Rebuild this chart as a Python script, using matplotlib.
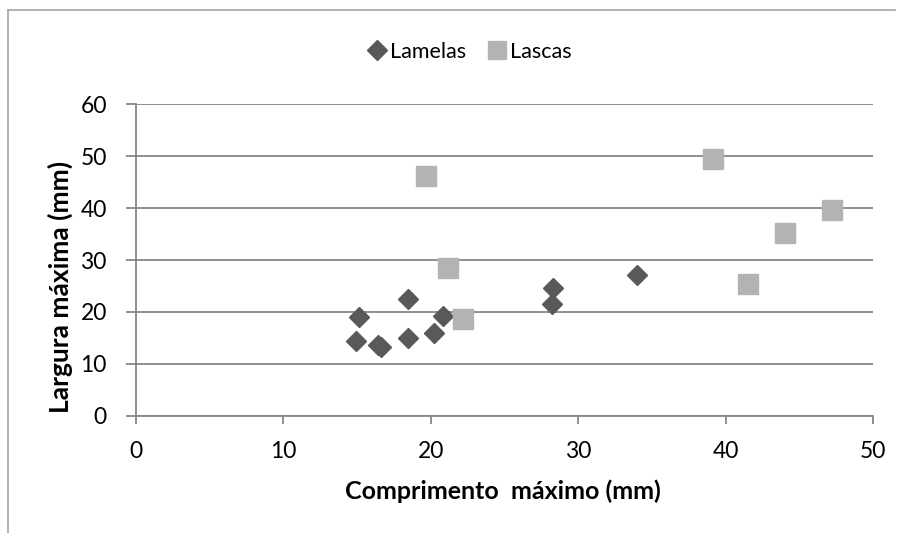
import matplotlib
matplotlib.use("Agg")
import matplotlib.pyplot as plt
from matplotlib.lines import Line2D

plt.rcParams['font.family'] = ['Lato', 'DejaVu Sans']

lamelas_x = [14.9, 15.15, 16.45, 16.65, 18.45, 18.45, 20.25, 20.85, 28.25, 28.3, 34.0]
lamelas_y = [14.4, 19.05, 13.75, 13.3, 22.45, 15.0, 16.05, 19.3, 21.45, 24.55, 27.15]
lascas_x = [19.65, 21.2, 22.2, 39.15, 41.5, 44.05, 47.25]
lascas_y = [46.1, 28.5, 18.65, 49.45, 25.45, 35.2, 39.55]

xticks = [0, 10, 20, 30, 40, 50]
yticks = [0, 10, 20, 30, 40, 50, 60]

fig = plt.figure(figsize=(9.03, 5.33), dpi=100)
ax = fig.add_axes([136/903, 1-416/533, (873-136)/903, (416-104)/533])

grid_c = '#868686'
ax.set_xlim(0, 50)
ax.set_ylim(0, 60)
ax.set_xticks(xticks)
ax.set_yticks(yticks)
ax.yaxis.grid(True, color=grid_c, linewidth=1.3)
ax.set_axisbelow(True)
for s in ['top', 'right']:
    ax.spines[s].set_visible(False)
for s in ['left', 'bottom']:
    ax.spines[s].set_color(grid_c)
    ax.spines[s].set_linewidth(1.3)
ax.tick_params(axis='both', direction='out', width=1.3, color=grid_c, labelsize=16.5)
ax.tick_params(axis='x', length=6, pad=12)
ax.tick_params(axis='y', length=7, pad=14)

ax.plot(lamelas_x, lamelas_y, linestyle='none', marker='D', markersize=10.5,
        color='#595959', label='Lamelas', clip_on=False)
ax.plot(lascas_x, lascas_y, linestyle='none', marker='s', markersize=14.5,
        color='#B3B3B3', label='Lascas', clip_on=False)

ax.set_xlabel('Comprimento  máximo (mm)', fontsize=18, fontweight='bold')
ax.xaxis.set_label_coords((503-136)/737, (416-479)/312)
ax.set_ylabel('Largura máxima (mm)', fontsize=19, fontweight='bold')
ax.yaxis.set_label_coords((73-136)/737, (416-287)/312)

handles = [Line2D([], [], linestyle='none', marker='D', markersize=10, color='#595959'),
           Line2D([], [], linestyle='none', marker='s', markersize=12.5, color='#B3B3B3')]
fig.legend(handles, ['Lamelas', 'Lascas'], loc='center', bbox_to_anchor=(470/903, 1-52/533),
           ncol=2, frameon=False, fontsize=15.5, handlelength=0.8, handletextpad=0.2,
           columnspacing=1.0)

# chart frame (top and left edges visible)
fig.add_artist(Line2D([8/903, 895/903], [1-10/533, 1-10/533], color='#a6a6a6', linewidth=1.2))
fig.add_artist(Line2D([8/903, 8/903], [1-10/533, 0], color='#a6a6a6', linewidth=1.2))

fig.savefig('out.png', dpi=100)
